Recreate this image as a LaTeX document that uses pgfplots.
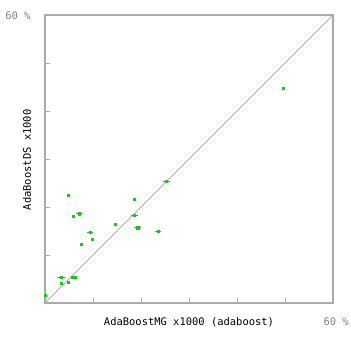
\documentclass[border=0pt]{standalone}
\usepackage{pgfplots}
\pgfplotsset{compat=1.18}
\usepackage{fontspec}
\setmainfont{DejaVu Sans Mono}
\definecolor{ptgreen}{RGB}{20,200,20}
\definecolor{axgray}{RGB}{170,170,170}
\definecolor{diaggray}{RGB}{175,175,175}
\definecolor{txtgray}{RGB}{130,130,130}
\begin{document}
\begin{tikzpicture}
\useasboundingbox (0,0) rectangle (351bp,338bp);
\begin{axis}[
  at={(45bp,35bp)}, anchor=south west,
  scale only axis, width=288bp, height=288bp,
  xmin=0, xmax=60, ymin=0, ymax=60,
  xtick={10,20,30,40,50}, ytick={10,20,30,40,50},
  xticklabels={}, yticklabels={},
  xtick pos=bottom, ytick pos=left,
  tick align=inside, major tick length=5bp,
  axis line style={axgray, line width=1.1pt},
  every tick/.style={axgray, line width=1pt},
  clip=false,
  xlabel={AdaBoostMG x1000 (adaboost)},
  ylabel={AdaBoostDS x1000},
  label style={font=\fontsize{10.5}{12}\selectfont, black},
  xlabel style={at={(axis description cs:0.5,-0.066)}, anchor=center},
  ylabel style={at={(axis description cs:-0.0625,0.497)}, anchor=center, rotate=0},
]
\addplot[diaggray, line width=0.8pt] coordinates {(0,0) (60,60)};
\addplot[only marks, mark=square*, mark size=1.1pt, color=ptgreen,
  error bars/.cd, x dir=both, x explicit,
  error bar style={ptgreen, line width=0.6pt}, error mark=none]
  table[x=x, y=y, x error=e] {
x y e
25.3 25.3 0.7
4.8 22.5 0
18.6 21.7 0
7.1 18.6 0.7
5.9 18.0 0
18.6 18.3 0.7
14.6 16.5 0
19.3 15.7 0.7
23.5 15.0 0.6
9.4 14.7 0.6
9.9 13.3 0
7.6 12.2 0
3.3 5.3 0.8
5.6 5.4 0
6.3 5.3 0
3.3 4.2 0
4.8 4.4 0
0.1 1.7 0
49.7 44.7 0.3
};
\end{axis}
\node[anchor=east, text=txtgray, font=\fontsize{10.5}{12}\selectfont] at (34bp,322bp) {60 \%};
\node[anchor=west, text=txtgray, font=\fontsize{10.5}{12}\selectfont] at (320bp,16bp) {60 \%};
\end{tikzpicture}
\end{document}
